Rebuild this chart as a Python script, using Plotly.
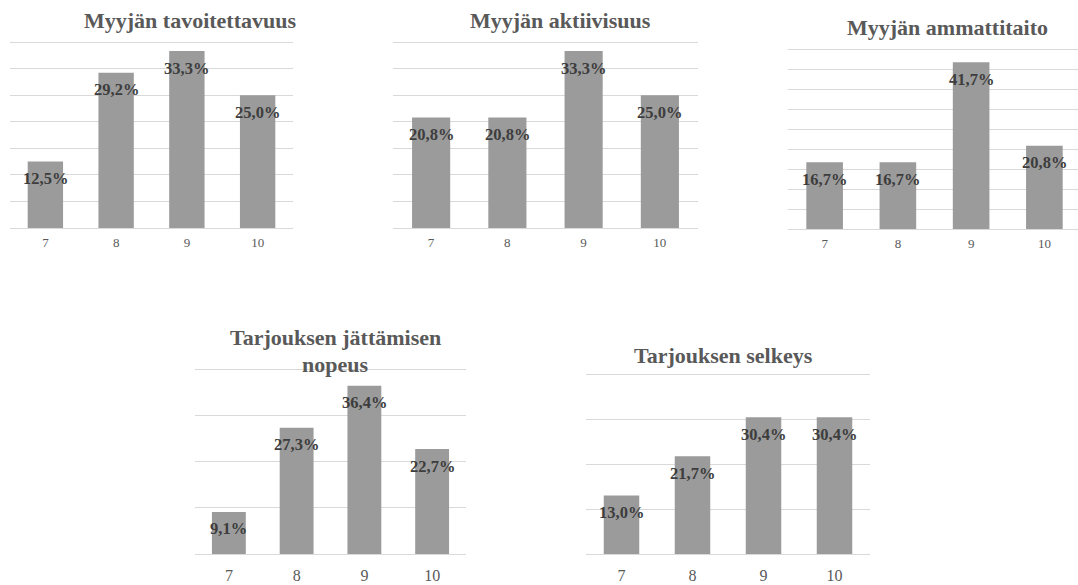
import plotly.graph_objects as go

# Arvosanat (vaaka-akseli) ja vastausten osuudet prosentteina
categories = ["7", "8", "9", "10"]

tavoitettavuus = [12.5, 29.2, 33.3, 25.0]
aktiivisuus = [20.8, 20.8, 33.3, 25.0]
ammattitaito = [16.7, 16.7, 41.7, 20.8]
jattamisen_nopeus = [9.1, 27.3, 36.4, 22.7]
selkeys = [13.0, 21.7, 30.4, 30.4]

titles = [
    ["Myyjän tavoitettavuus"],
    ["Myyjän aktiivisuus"],
    ["Myyjän ammattitaito"],
    ["Tarjouksen jättämisen", "nopeus"],
    ["Tarjouksen selkeys"],
]
series = [tavoitettavuus, aktiivisuus, ammattitaito, jattamisen_nopeus, selkeys]

W, H = 1078, 585
FONT = "Liberation Serif"
BAR = "#9b9b9b"
GRID = "#d9d9d9"
PAD = 2  # extra pixels above the top gridline so it is not clipped

# pixel layout of each panel: plot box (left, right, top, bottom), y max, y step,
# x range end, tick font size, title centre x and centre y of each title line
panels = [
    dict(box=(10, 293, 42, 228), ymax=35, dy=5, xend=3.5, tick=13, tx=190, ty=[21]),
    dict(box=(393, 698, 42, 228), ymax=35, dy=5, xend=3.5, tick=13, tx=560, ty=[21]),
    dict(box=(788, 1078, 49, 229), ymax=45, dy=5, xend=3.459, tick=13, tx=947, ty=[27]),
    dict(box=(195, 466, 369, 554), ymax=40, dy=10, xend=3.5, tick=16, tx=335, ty=[338, 364]),
    dict(box=(586, 870, 374, 554), ymax=40, dy=10, xend=3.5, tick=16, tx=723, ty=[356]),
]


def fmt(v):
    return f"{v:.1f}".replace(".", ",") + "%"


fig = go.Figure()
annotations = []
layout_axes = {}

for i, (vals, p, title) in enumerate(zip(series, panels, titles), start=1):
    xa = "x" if i == 1 else f"x{i}"
    ya = "y" if i == 1 else f"y{i}"
    l, r, t, b = p["box"]
    h = b - t

    fig.add_trace(go.Bar(
        x=categories, y=vals, xaxis=xa, yaxis=ya,
        marker=dict(color=BAR, line=dict(width=0)),
        hoverinfo="skip", showlegend=False,
    ))

    # value labels just inside the top of each bar (x given as category index)
    for k, v in enumerate(vals):
        annotations.append(dict(
            x=k, y=v, xref=xa, yref=ya, text=fmt(v), showarrow=False,
            xanchor="center", yanchor="middle", yshift=-17,
            font=dict(family=FONT, size=16.5, color="#3d3d3d", weight=700),
        ))

    for line, cy in zip(title, p["ty"]):
        annotations.append(dict(
            x=p["tx"] / W, y=1 - cy / H, xref="paper", yref="paper",
            text=line, showarrow=False, xanchor="center", yanchor="middle",
            font=dict(family=FONT, size=22, color="#595959", weight=700),
        ))

    key = "" if i == 1 else str(i)
    layout_axes[f"xaxis{key}"] = dict(
        domain=[l / W, r / W], anchor=ya, type="category",
        range=[-0.5, p["xend"]], showgrid=False, zeroline=False,
        showline=False, ticks="", fixedrange=True,
        tickfont=dict(family=FONT, size=p["tick"], color="#595959"),
        ticklabelstandoff=5 if p["tick"] == 13 else 10,
    )
    layout_axes[f"yaxis{key}"] = dict(
        domain=[1 - b / H, 1 - (t - PAD) / H], anchor=xa,
        range=[0, p["ymax"] * (h + PAD) / h], dtick=p["dy"], tick0=0,
        showgrid=True, gridcolor=GRID, gridwidth=1,
        zeroline=True, zerolinecolor=GRID, zerolinewidth=1,
        showline=False, showticklabels=False, ticks="", fixedrange=True,
    )

fig.update_layout(
    width=W, height=H,
    margin=dict(l=0, r=0, t=0, b=0),
    paper_bgcolor="white", plot_bgcolor="white",
    bargap=0.5,
    annotations=annotations,
    **layout_axes,
)

fig.write_html("out.html", config={"displayModeBar": False})
